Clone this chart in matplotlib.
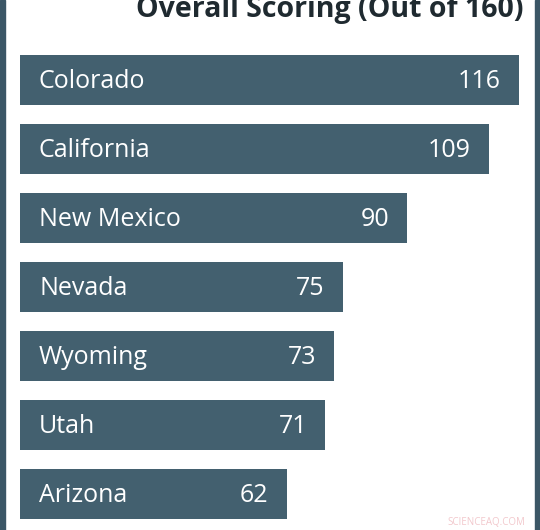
import matplotlib
matplotlib.use('Agg')
import matplotlib.pyplot as plt
from matplotlib.patches import Rectangle

states = ['Colorado', 'California', 'New Mexico', 'Nevada', 'Wyoming', 'Utah', 'Arizona']
scores = [116, 109, 90, 75, 73, 71, 62]
title = 'Overall Scoring (Out of 160)'

bar_color = '#43606f'
frame_color = '#3b5666'
W, H = 540, 530
px_per_unit = 4.3
step = 69.0

plt.rcParams['font.family'] = ['Open Sans', 'DejaVu Sans']

fig = plt.figure(figsize=(W / 100, H / 100), dpi=100)
fig.patch.set_facecolor('white')
ax = fig.add_axes([0, 0, 1, 1])
ax.set_axis_off()

y = list(range(len(states)))
ax.barh(y, scores, height=50 / step, color=bar_color, left=0)
ax.set_xlim(-20 / px_per_unit, (W - 20) / px_per_unit)
ax.set_ylim((H - 79.5) / step, -79.5 / step)

for i, (s, v) in enumerate(zip(states, scores)):
	ax.text(19 / px_per_unit, i + 0.03, s, color='white', fontsize=18, va='center', ha='left')
	ax.text(v - 18 / px_per_unit, i + 0.03, str(v), color='white', fontsize=18, va='center', ha='right')

fig.text(523 / W, 1 - 17 / H, title, ha='right', va='baseline', fontsize=20.5,
         fontweight='bold', color='#1f2a30')

# dark frame at the left and right edges
fig.patches.append(Rectangle((0, 0), 5 / W, 1, transform=fig.transFigure, color=frame_color))
fig.patches.append(Rectangle((1 - 5 / W, 0), 5 / W, 1, transform=fig.transFigure, color=frame_color))

fig.text(525 / W, 1 - 525 / H, 'SCIENCEAQ.COM', ha='right', va='baseline', fontsize=7,
         color='#f2c8cc')

plt.savefig('out.png', dpi=100)
plt.close()
